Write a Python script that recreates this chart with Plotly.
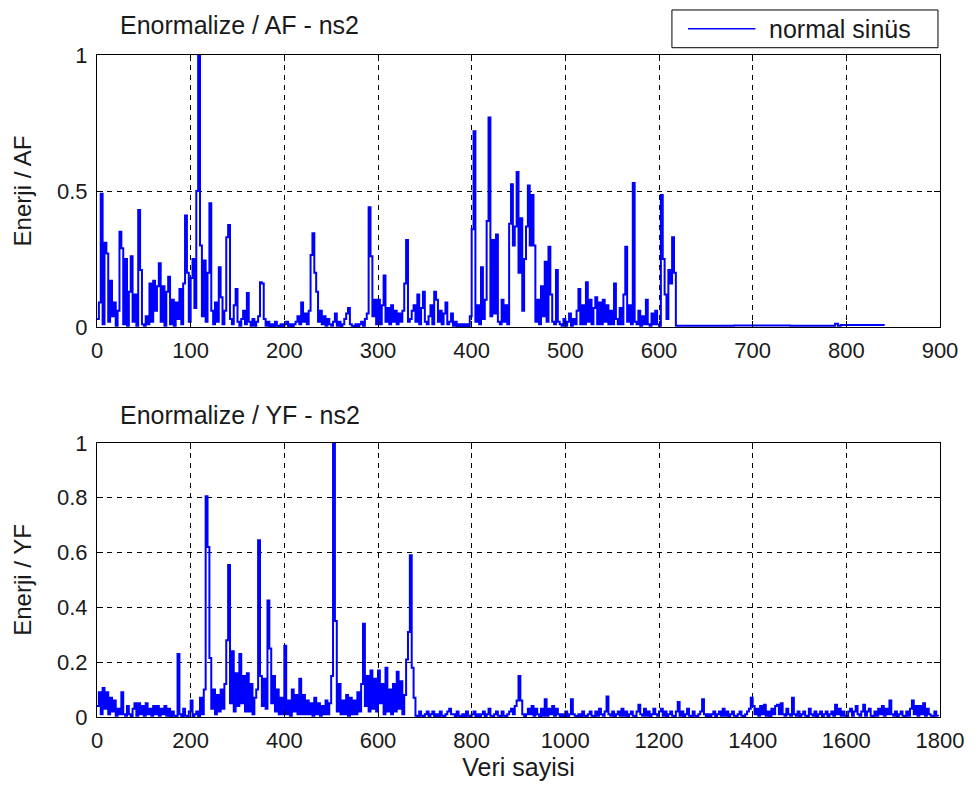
import numpy as np
import plotly.graph_objects as go
from plotly.subplots import make_subplots

# --- top panel (AF): one value every 2 samples for 0..616, then the flat tail
af_step = 2
af_vals = [
    0.03, 0.09, 0.49, 0.01, 0.31, 0.27, 0.02, 0.17, 0.04, 0.09,
    0.005, 0.06, 0.35, 0.29, 0.01, 0.25, 0.005, 0.13, 0.26, 0.02,
    0.12, 0.005, 0.43, 0.21, 0.01, 0.005, 0.04, 0.01, 0.16, 0.02,
    0.17, 0.06, 0.15, 0.235, 0.02, 0.15, 0.005, 0.13, 0.185, 0.01,
    0.10, 0.005, 0.09, 0.03, 0.14, 0.01, 0.16, 0.41, 0.20, 0.02,
    0.18, 0.25, 0.07, 0.50, 1.0, 0.30, 0.04, 0.245, 0.02, 0.20,
    0.455, 0.06, 0.01, 0.09, 0.02, 0.22, 0.11, 0.01, 0.06, 0.33,
    0.375, 0.03, 0.01, 0.08, 0.14, 0.02, 0.005, 0.03, 0.06, 0.01,
    0.125, 0.02, 0.005, 0.03, 0.005, 0.02, 0.04, 0.165, 0.16, 0.03,
    0.005, 0.02, 0.003, 0.01, 0.003, 0.02, 0.005, 0.003, 0.01, 0.003,
    0.01, 0.02, 0.003, 0.01, 0.003, 0.01, 0.02, 0.04, 0.01, 0.09,
    0.02, 0.05, 0.01, 0.06, 0.265, 0.345, 0.20, 0.13, 0.02, 0.06,
    0.01, 0.04, 0.005, 0.03, 0.01, 0.005, 0.02, 0.05, 0.005, 0.02,
    0.003, 0.01, 0.03, 0.05, 0.07, 0.01, 0.005, 0.003, 0.01, 0.003,
    0.01, 0.02, 0.005, 0.03, 0.05, 0.44, 0.26, 0.04, 0.10, 0.01,
    0.10, 0.01, 0.08, 0.19, 0.02, 0.07, 0.01, 0.08, 0.02, 0.06,
    0.01, 0.05, 0.02, 0.06, 0.16, 0.32, 0.02, 0.03, 0.06, 0.08,
    0.02, 0.12, 0.01, 0.07, 0.13, 0.02, 0.01, 0.04, 0.08, 0.01,
    0.13, 0.10, 0.02, 0.06, 0.01, 0.05, 0.09, 0.01, 0.02, 0.05,
    0.005, 0.02, 0.003, 0.01, 0.003, 0.01, 0.003, 0.01, 0.003, 0.04,
    0.36, 0.72, 0.02, 0.08, 0.01, 0.22, 0.03, 0.10, 0.39, 0.77,
    0.04, 0.32, 0.05, 0.34, 0.02, 0.01, 0.10, 0.02, 0.08, 0.01,
    0.38, 0.525, 0.30, 0.37, 0.57, 0.20, 0.40, 0.06, 0.25, 0.37,
    0.52, 0.30, 0.485, 0.30, 0.02, 0.10, 0.01, 0.15, 0.04, 0.24,
    0.02, 0.295, 0.12, 0.02, 0.01, 0.21, 0.02, 0.01, 0.005, 0.03,
    0.005, 0.02, 0.05, 0.005, 0.03, 0.01, 0.06, 0.14, 0.01, 0.08,
    0.01, 0.165, 0.02, 0.10, 0.01, 0.07, 0.11, 0.01, 0.09, 0.01,
    0.10, 0.02, 0.08, 0.01, 0.06, 0.01, 0.16, 0.03, 0.01, 0.07,
    0.01, 0.12, 0.295, 0.02, 0.08, 0.01, 0.53, 0.02, 0.01, 0.06,
    0.005, 0.04, 0.01, 0.10, 0.01, 0.005, 0.05, 0.01, 0.06, 0.01,
    0.005, 0.485, 0.25, 0.12, 0.03, 0.21, 0.16, 0.33, 0.20,
]
af_tail_x = [618, 680, 740, 785, 788, 791, 794, 840]
af_tail_y = [0.005, 0.006, 0.005, 0.005, 0.012, 0.005, 0.008, 0.005]

# --- bottom panel (YF): one value every 4 samples for 0..1796
yf_step = 4
yf_vals = [
    0.04, 0.09, 0.01, 0.106, 0.03, 0.09, 0.01, 0.07, 0.02, 0.06,
    0.005, 0.03, 0.01, 0.09, 0.01, 0.005, 0.04, 0.01, 0.003, 0.03,
    0.05, 0.005, 0.05, 0.01, 0.04, 0.005, 0.05, 0.01, 0.03, 0.005,
    0.04, 0.01, 0.04, 0.005, 0.03, 0.01, 0.04, 0.005, 0.03, 0.003,
    0.02, 0.005, 0.003, 0.23, 0.01, 0.003, 0.03, 0.005, 0.003, 0.02,
    0.06, 0.003, 0.01, 0.02, 0.003, 0.07, 0.01, 0.10, 0.805, 0.62,
    0.215, 0.03, 0.10, 0.01, 0.08, 0.02, 0.10, 0.03, 0.12, 0.28,
    0.555, 0.05, 0.24, 0.02, 0.16, 0.04, 0.23, 0.05, 0.15, 0.02,
    0.16, 0.02, 0.12, 0.01, 0.07, 0.10, 0.645, 0.15, 0.04, 0.14,
    0.03, 0.425, 0.25, 0.05, 0.15, 0.02, 0.10, 0.01, 0.07, 0.01,
    0.26, 0.01, 0.06, 0.005, 0.10, 0.02, 0.08, 0.01, 0.14, 0.01,
    0.08, 0.01, 0.06, 0.01, 0.05, 0.005, 0.07, 0.01, 0.05, 0.005,
    0.04, 0.01, 0.06, 0.01, 0.05, 0.15, 1.0, 0.35, 0.02, 0.12,
    0.01, 0.06, 0.01, 0.08, 0.005, 0.07, 0.01, 0.06, 0.01, 0.09,
    0.02, 0.12, 0.34, 0.04, 0.15, 0.02, 0.17, 0.03, 0.14, 0.02,
    0.17, 0.05, 0.12, 0.01, 0.18, 0.02, 0.10, 0.01, 0.12, 0.02,
    0.165, 0.03, 0.13, 0.01, 0.08, 0.21, 0.31, 0.59, 0.18, 0.07,
    0.005, 0.003, 0.02, 0.005, 0.003, 0.01, 0.02, 0.003, 0.01, 0.02,
    0.003, 0.01, 0.003, 0.02, 0.005, 0.003, 0.01, 0.02, 0.03, 0.01,
    0.01, 0.003, 0.02, 0.005, 0.003, 0.01, 0.003, 0.02, 0.005, 0.003,
    0.01, 0.02, 0.003, 0.01, 0.003, 0.01, 0.02, 0.003, 0.01, 0.03,
    0.005, 0.003, 0.01, 0.02, 0.005, 0.003, 0.02, 0.005, 0.003, 0.01,
    0.02, 0.03, 0.01, 0.04, 0.06, 0.15, 0.06, 0.01, 0.003, 0.01,
    0.03, 0.01, 0.04, 0.005, 0.03, 0.01, 0.003, 0.03, 0.005, 0.065,
    0.005, 0.03, 0.01, 0.04, 0.005, 0.03, 0.01, 0.003, 0.01, 0.003,
    0.02, 0.003, 0.01, 0.065, 0.01, 0.005, 0.003, 0.01, 0.003, 0.02,
    0.005, 0.003, 0.01, 0.02, 0.005, 0.003, 0.02, 0.005, 0.03, 0.01,
    0.005, 0.02, 0.075, 0.01, 0.005, 0.02, 0.003, 0.01, 0.02, 0.005,
    0.03, 0.005, 0.02, 0.003, 0.01, 0.02, 0.005, 0.003, 0.02, 0.045,
    0.01, 0.005, 0.03, 0.005, 0.02, 0.003, 0.01, 0.03, 0.01, 0.005,
    0.02, 0.03, 0.005, 0.02, 0.003, 0.01, 0.02, 0.005, 0.003, 0.02,
    0.055, 0.005, 0.02, 0.003, 0.01, 0.03, 0.005, 0.003, 0.02, 0.005,
    0.003, 0.01, 0.02, 0.065, 0.01, 0.003, 0.01, 0.003, 0.01, 0.02,
    0.003, 0.01, 0.02, 0.005, 0.03, 0.005, 0.02, 0.003, 0.01, 0.02,
    0.005, 0.003, 0.01, 0.02, 0.005, 0.003, 0.01, 0.02, 0.03, 0.07,
    0.04, 0.01, 0.03, 0.005, 0.04, 0.01, 0.045, 0.005, 0.02, 0.003,
    0.03, 0.01, 0.04, 0.045, 0.01, 0.05, 0.01, 0.005, 0.03, 0.01,
    0.005, 0.07, 0.01, 0.005, 0.02, 0.003, 0.01, 0.02, 0.005, 0.003,
    0.03, 0.01, 0.005, 0.02, 0.003, 0.01, 0.02, 0.003, 0.01, 0.02,
    0.003, 0.01, 0.02, 0.005, 0.045, 0.01, 0.03, 0.005, 0.02, 0.005,
    0.003, 0.02, 0.03, 0.005, 0.02, 0.04, 0.01, 0.005, 0.02, 0.045,
    0.005, 0.02, 0.03, 0.005, 0.003, 0.02, 0.005, 0.03, 0.01, 0.04,
    0.005, 0.03, 0.01, 0.06, 0.01, 0.005, 0.02, 0.003, 0.01, 0.02,
    0.005, 0.003, 0.02, 0.005, 0.03, 0.06, 0.01, 0.04, 0.005, 0.04,
    0.01, 0.05, 0.005, 0.03, 0.01, 0.005, 0.003, 0.02, 0.005, 0.003,
]

af_x = list(np.arange(len(af_vals)) * af_step) + af_tail_x
af_y = af_vals + af_tail_y
yf_x = np.arange(len(yf_vals)) * yf_step

BLUE = "rgb(0,0,255)"
INK = "#1a1a1a"
FONT = "Liberation Sans, Arial, sans-serif"

fig = make_subplots(rows=2, cols=1)
fig.add_trace(go.Scatter(x=af_x, y=af_y, mode="lines",
                         line=dict(color=BLUE, width=2, shape="hv"), name="normal sinüs"),
              row=1, col=1)
fig.add_trace(go.Scatter(x=yf_x, y=yf_vals, mode="lines",
                         line=dict(color=BLUE, width=2, shape="hv"), showlegend=False),
              row=2, col=1)

axis_style = dict(showline=True, linecolor="black", linewidth=1, mirror="ticks",
                  ticks="inside", ticklen=6, tickcolor="black",
                  showgrid=True, gridcolor="black", gridwidth=1, griddash="5px,5px",
                  zeroline=False, ticklabelstandoff=4,
                  tickfont=dict(size=22, color=INK, family=FONT))

fig.update_xaxes(**axis_style)
fig.update_yaxes(**axis_style)
fig.update_xaxes(range=[0, 900], dtick=100, tick0=0, row=1, col=1)
fig.update_yaxes(range=[0, 1], dtick=0.5, tick0=0, row=1, col=1,
                 title=dict(text="Enerji / AF", font=dict(size=24, family=FONT, color=INK), standoff=18))
fig.update_xaxes(range=[0, 1800], dtick=200, tick0=0, row=2, col=1,
                 title=dict(text="Veri sayisi", font=dict(size=25, family=FONT, color=INK), standoff=5))
fig.update_yaxes(range=[0, 1], dtick=0.2, tick0=0, row=2, col=1,
                 title=dict(text="Enerji / YF", font=dict(size=24, family=FONT, color=INK), standoff=18))

# the page adds an 8px body margin, so the plot box sits at 97..940 x 55..717 on screen
fig.update_layout(
    width=975, height=793,
    margin=dict(l=89, r=43, t=47, b=84),
    paper_bgcolor="white", plot_bgcolor="white",
    showlegend=False,
    font=dict(family=FONT, size=22, color=INK),
)
fig.update_layout(xaxis=dict(domain=[0, 1]), yaxis=dict(domain=[0.589, 1.0]),
                  xaxis2=dict(domain=[0, 1]), yaxis2=dict(domain=[0.0, 0.414]))

# subplot titles
for txt, ypos in [("Enormalize / AF - ns2", 1.045), ("Enormalize / YF - ns2", 0.456)]:
    fig.add_annotation(text=txt, xref="paper", yref="paper", x=0.025, y=ypos,
                       xanchor="left", yanchor="middle", showarrow=False,
                       font=dict(size=25, family=FONT, color=INK))

# legend box drawn by hand (MATLAB style, long line sample)
fig.add_shape(type="rect", xref="paper", yref="paper", x0=0.682, x1=0.9976, y0=1.011, y1=1.068,
              line=dict(color="black", width=1), fillcolor="white")
fig.add_shape(type="line", xref="paper", yref="paper", x0=0.701, x1=0.781, y0=1.0395, y1=1.0395,
              line=dict(color=BLUE, width=1.5))
fig.add_annotation(text="normal sinüs", xref="paper", yref="paper", x=0.795, y=1.0395,
                   xanchor="left", yanchor="middle", showarrow=False,
                   font=dict(size=25, family=FONT, color=INK))

fig.write_html("out.html")
